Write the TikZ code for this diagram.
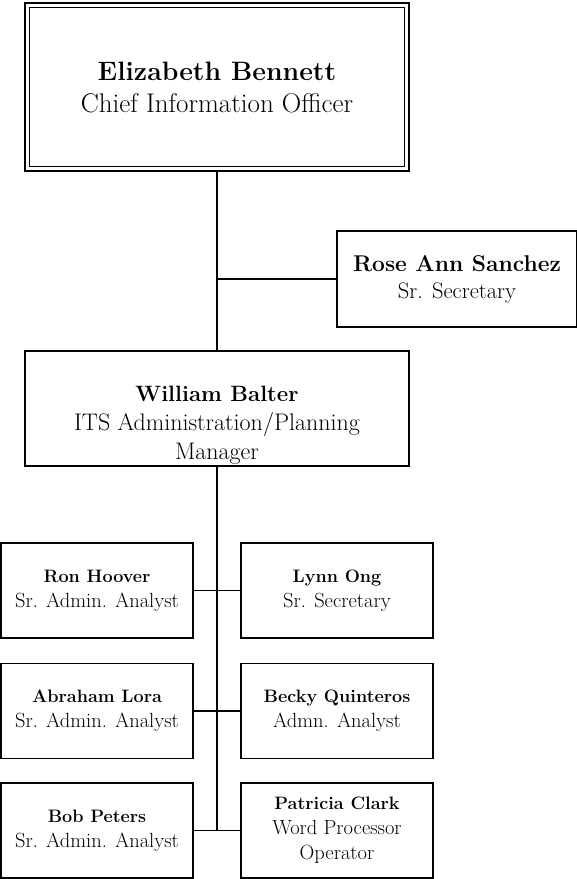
\documentclass[tikz,border=0pt]{standalone}
\begin{document}
\begin{tikzpicture}[x=1pt,y=-1pt,
  box/.style={draw=black,line width=1.5pt,rectangle,inner sep=0pt,align=center,fill=white},
  conn/.style={draw=black,line width=1.5pt},
  staff/.style={box,minimum width=192pt,minimum height=95pt,font=\fontsize{20.5}{25}\selectfont}]
\newcommand{\staffname}[1]{{\fontsize{18}{25}\selectfont\bfseries #1}}
\useasboundingbox (0,0) rectangle (577,879);
% top box
\node[box,minimum width=384pt,minimum height=168pt,font=\fontsize{27}{32}\selectfont] (ceo) at (217,87)
  {{\fontsize{26.6}{32}\selectfont\bfseries Elizabeth Bennett}\\Chief Information Officer};
\draw[line width=1.3pt] ([xshift=5pt,yshift=-5pt]ceo.north west) rectangle ([xshift=-5pt,yshift=5pt]ceo.south east);
% secretary
\node[box,minimum width=240pt,minimum height=96pt,font=\fontsize{22.5}{27}\selectfont] (rose) at (457,279)
  {{\fontsize{22.8}{27}\selectfont\bfseries Rose Ann Sanchez}\\Sr. Secretary};
% manager
\node[box,minimum width=384pt,minimum height=115pt] (wb) at (217,408.5) {};
\node[align=center,inner sep=0pt,font=\fontsize{24}{29}\selectfont] (wbtext) at (217,425)
  {{\fontsize{22.2}{29}\selectfont\bfseries William Balter}\\ITS Administration/Planning\\Manager};
% staff
\node[staff] (ron) at (97,590.5) {\staffname{Ron Hoover}\\Sr. Admin. Analyst};
\node[staff] (lynn) at (337,590.5) {\staffname{Lynn Ong}\\Sr. Secretary};
\node[staff] (abe) at (97,711) {\staffname{Abraham Lora}\\Sr. Admin. Analyst};
\node[staff] (becky) at (337,711) {\staffname{Becky Quinteros}\\Admn. Analyst};
\node[staff] (bob) at (97,830.5) {\staffname{Bob Peters}\\Sr. Admin. Analyst};
\node[staff] (pat) at (337,830.5) {\staffname{Patricia Clark}\\Word Processor\\Operator};
% connectors
\path[conn] (ceo.south) -- (wb.north);
\path[conn] (rose.west) -- (rose.west -| ceo.south);
\path[conn] (wb.south) -- (wb.south |- bob.east);
\path[conn] (ron.east) -- (lynn.west);
\path[conn] (abe.east) -- (becky.west);
\path[conn] (bob.east) -- (pat.west);
\end{tikzpicture}
\end{document}
